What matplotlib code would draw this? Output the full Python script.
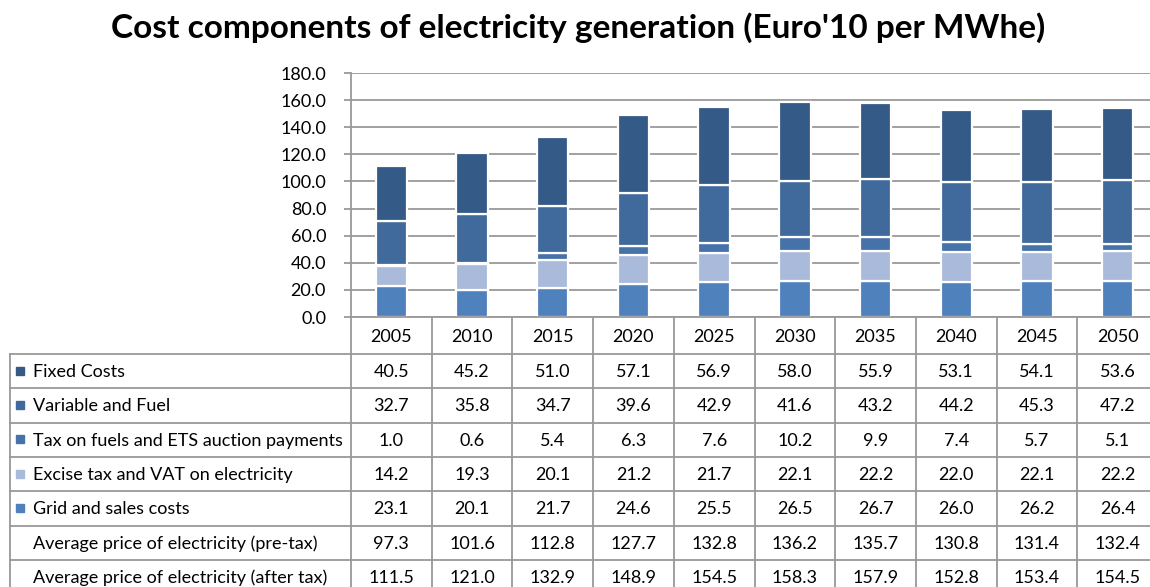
import matplotlib
matplotlib.use("Agg")
import matplotlib.pyplot as plt
from matplotlib.patches import Rectangle

plt.rcParams['font.family'] = ['Lato', 'DejaVu Sans']

years = ['2005', '2010', '2015', '2020', '2025', '2030', '2035', '2040', '2045', '2050']
fixed_costs = [40.5, 45.2, 51.0, 57.1, 56.9, 58.0, 55.9, 53.1, 54.1, 53.6]
variable_fuel = [32.7, 35.8, 34.7, 39.6, 42.9, 41.6, 43.2, 44.2, 45.3, 47.2]
tax_fuels_ets = [1.0, 0.6, 5.4, 6.3, 7.6, 10.2, 9.9, 7.4, 5.7, 5.1]
excise_vat = [14.2, 19.3, 20.1, 21.2, 21.7, 22.1, 22.2, 22.0, 22.1, 22.2]
grid_sales = [23.1, 20.1, 21.7, 24.6, 25.5, 26.5, 26.7, 26.0, 26.2, 26.4]
price_pre_tax = [97.3, 101.6, 112.8, 127.7, 132.8, 136.2, 135.7, 130.8, 131.4, 132.4]
price_after_tax = [111.5, 121.0, 132.9, 148.9, 154.5, 158.3, 157.9, 152.8, 153.4, 154.5]

series_labels = ['Fixed Costs', 'Variable and Fuel', 'Tax on fuels and ETS auction payments',
                 'Excise tax and VAT on electricity', 'Grid and sales costs']
series_values = [fixed_costs, variable_fuel, tax_fuels_ets, excise_vat, grid_sales]
series_colors = ['#345A87', '#416A9C', '#4672AA', '#AABADA', '#4F81BD']
extra_labels = ['Average price of electricity (pre-tax)', 'Average price of electricity (after tax)']
extra_values = [price_pre_tax, price_after_tax]

W, H = 1150, 587
fig = plt.figure(figsize=(W / 100, H / 100), dpi=100)

# pixel layout
ax_left, ax_right, ax_top, ax_bottom = 351, 1158, 73, 317
col_w = (ax_right - ax_left) / len(years)
row_top = 354
row_h = 34.3
tab_left = 10

ax = fig.add_axes([ax_left / W, 1 - ax_bottom / H, (ax_right - ax_left) / W, (ax_bottom - ax_top) / H])
x = list(range(len(years)))
bottom = [0.0] * len(years)
# stack bottom to top: grid, excise, tax, variable, fixed
for vals, col in zip(series_values[::-1], series_colors[::-1]):
    ax.bar(x, vals, width=0.39, bottom=bottom, color=col, edgecolor='white', linewidth=1.6, zorder=3)
    bottom = [b + v for b, v in zip(bottom, vals)]
ax.set_xlim(-0.5, len(years) - 0.5)
ax.set_ylim(0, 180)
ax.set_yticks(range(0, 181, 20))
ax.set_yticklabels([f'{v:.1f}' for v in range(0, 181, 20)], fontsize=13)
ax.yaxis.grid(True, color='#999999', linewidth=1.3, zorder=0)
ax.set_xticks([])
for s in ['top', 'right', 'bottom']:
    ax.spines[s].set_visible(False)
ax.spines['left'].set_color('#999999')
ax.spines['left'].set_linewidth(1.3)
ax.tick_params(axis='y', length=5, color='#999999', width=1.3, pad=13)

# overlay for table
ov = fig.add_axes([0, 0, 1, 1])
ov.set_xlim(0, W)
ov.set_ylim(H, 0)
ov.axis('off')
lc = '#999999'
lw = 1.3

n_rows = len(series_labels) + len(extra_labels)
# header row (years)
ov.plot([ax_left, W], [ax_bottom, ax_bottom], color=lc, lw=lw)
for i in range(len(years) + 1):
    xx = ax_left + i * col_w
    ov.plot([xx, xx], [ax_bottom, H], color=lc, lw=lw)
for i, y in enumerate(years):
    ov.text(ax_left + (i + 0.5) * col_w, (ax_bottom + row_top) / 2 + 1.5, y, ha='center', va='center', fontsize=13)
# horizontal lines
for r in range(n_rows + 1):
    yy = row_top + r * row_h
    ov.plot([tab_left, W], [yy, yy], color=lc, lw=lw)
ov.plot([tab_left, tab_left], [row_top, H], color=lc, lw=lw)

all_labels = series_labels + extra_labels
all_values = series_values + extra_values
for r, (lab, vals) in enumerate(zip(all_labels, all_values)):
    yc = row_top + (r + 0.5) * row_h + 1
    if r < len(series_labels):
        ov.add_patch(Rectangle((16, yc - 5.5), 8, 8, color=series_colors[r]))
    ov.text(33, yc, lab, ha='left', va='center', fontsize=13)
    for i, v in enumerate(vals):
        ov.text(ax_left + (i + 0.5) * col_w, yc, f'{v:.1f}', ha='center', va='center', fontsize=13)

fig.text(0.5025, 1 - 28 / H, "Cost components of electricity generation (Euro'10 per MWhe)",
         ha='center', va='center', fontsize=24, fontweight='bold')

fig.savefig('out.png', dpi=100)
